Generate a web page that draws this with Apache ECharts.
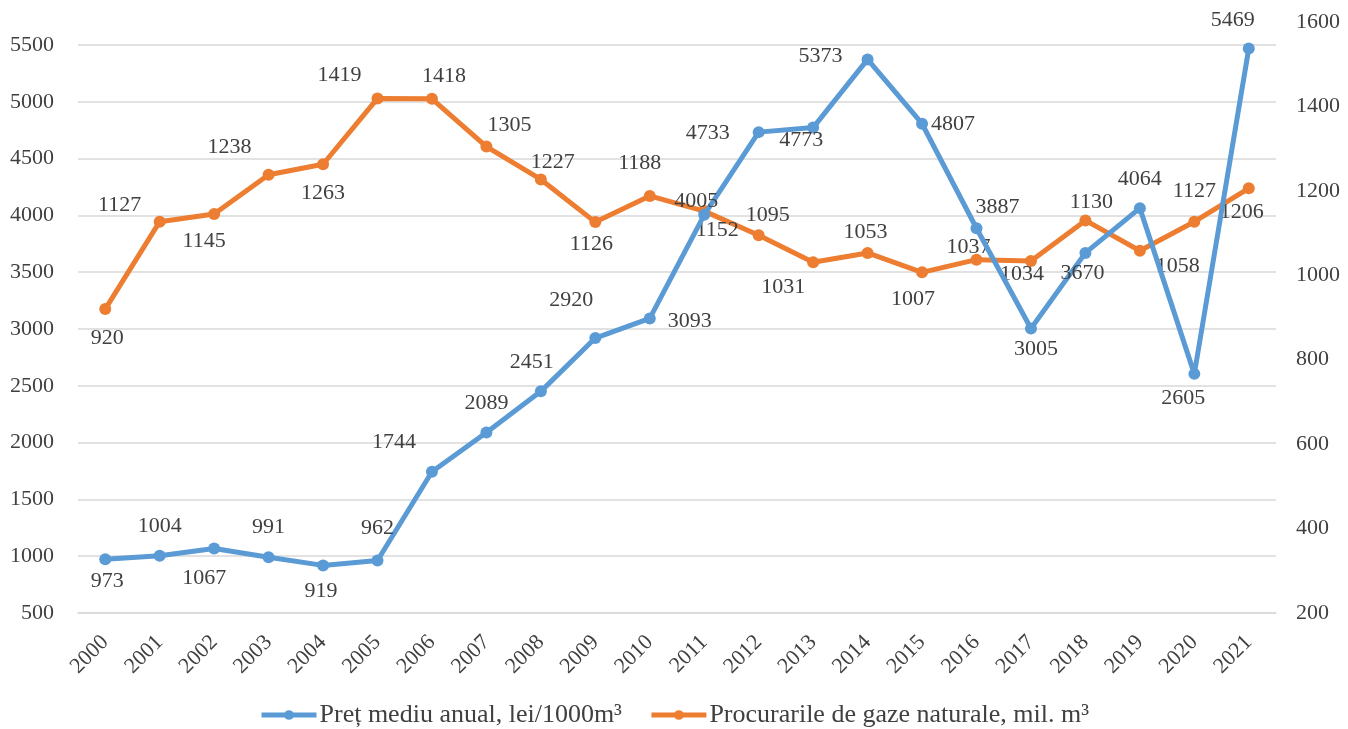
<!DOCTYPE html>
<html>
<head>
<meta charset="utf-8">
<script src="https://cdn.jsdelivr.net/npm/echarts@6/dist/echarts.min.js"></script>
<style>
  html, body { margin: 0; padding: 0; background: #fff; }
  #chart { width: 1348px; height: 729px; }
</style>
</head>
<body>
<div id="chart"></div>
<script>
// Chart data
const years = ["2000", "2001", "2002", "2003", "2004", "2005", "2006", "2007", "2008", "2009", "2010",
  "2011", "2012", "2013", "2014", "2015", "2016", "2017", "2018", "2019", "2020", "2021"];
const price = [973, 1004, 1067, 991, 919, 962, 1744, 2089, 2451, 2920, 3093,
  4005, 4733, 4773, 5373, 4807, 3887, 3005, 3670, 4064, 2605, 5469];
const procurement = [920, 1127, 1145, 1238, 1263, 1419, 1418, 1305, 1227, 1126, 1188,
  1152, 1095, 1031, 1053, 1007, 1037, 1034, 1130, 1058, 1127, 1206];
const priceName = "Preț mediu anual, lei/1000m³";
const procName = "Procurarile de gaze naturale, mil. m³";

// Label placement (offset from the point), set by hand like in the original
const priceLabelOffset = [[2, 22], [0, -30], [-10, 30], [0, -30], [-2, 26], [0, -32], [-38, -29], [0, -29],
  [-9, -29], [-24, -38], [40, 3], [-8, -14], [-51, 1], [-12, 13], [-47, -3], [31, 0], [21, -21], [5, 21],
  [-3, 20], [0, -29], [-11, 24], [-16, -28]];
const procLabelOffset = [[2, 29], [-40, -16], [-10, 27], [-39, -28], [0, 29], [-38, -23], [12, -23], [23, -21],
  [12, -17], [-4, 22], [-10, -33], [13, 19], [9, -20], [-30, 25], [-2, -21], [-9, 27], [-8, -12], [-9, 13],
  [6, -18], [38, 15], [0, -30], [-7, 24]];

const font = "'Liberation Serif', 'Times New Roman', serif";
const textColor = "#404040";
const blue = "#5B9BD5";
const orange = "#ED7D31";

function buildData(values, offsets) {
  return values.map((v, i) => ({
    value: v,
    label: { offset: offsets[i] }
  }));
}

const labelStyle = {
  show: true,
  position: "inside",
  fontFamily: font,
  fontSize: 22,
  color: textColor
};

let myChart = echarts.init(document.getElementById("chart"));

let option = {
  animation: false,
  backgroundColor: "#fff",
  grid: [
    { left: 78, right: 72, top: 45, bottom: 116 },
    { left: 78, right: 72, top: 22, bottom: 116 }
  ],
  legend: {
    top: 697,
    left: "center",
    itemWidth: 55,
    itemHeight: 12,
    itemGap: 27,
    lineStyle: { width: 5 },
    textStyle: { fontFamily: font, fontSize: 26, color: textColor, padding: [0, 0, 0, -2] },
    data: [priceName, procName]
  },
  xAxis: [
    {
      gridIndex: 0,
      type: "category",
      data: years,
      boundaryGap: true,
      axisLine: { lineStyle: { color: "#d9d9d9", width: 1.5 } },
      axisTick: { show: false },
      axisLabel: {
        rotate: 45,
        margin: 26,
        interval: 0,
        fontFamily: font,
        fontSize: 22,
        color: textColor
      }
    },
    {
      gridIndex: 1,
      type: "category",
      data: years,
      boundaryGap: true,
      show: false
    }
  ],
  yAxis: [
    {
      gridIndex: 0,
      type: "value",
      min: 500,
      max: 5500,
      interval: 500,
      axisLine: { show: false },
      axisTick: { show: false },
      splitLine: { lineStyle: { color: "#d9d9d9", width: 1.5 } },
      axisLabel: {
        margin: 24,
        fontFamily: font,
        fontSize: 22,
        color: textColor,
        formatter: (v) => String(v)
      }
    },
    {
      gridIndex: 1,
      type: "value",
      position: "right",
      min: 200,
      max: 1600,
      interval: 200,
      axisLine: { show: false },
      axisTick: { show: false },
      splitLine: { show: false },
      axisLabel: {
        margin: 20,
        fontFamily: font,
        fontSize: 22,
        color: textColor,
        formatter: (v) => String(v)
      }
    }
  ],
  series: [
    {
      name: priceName,
      type: "line",
      xAxisIndex: 0,
      yAxisIndex: 0,
      data: buildData(price, priceLabelOffset),
      symbol: "circle",
      symbolSize: 12,
      lineStyle: { color: blue, width: 5 },
      itemStyle: { color: blue },
      label: labelStyle,
      z: 3
    },
    {
      name: procName,
      type: "line",
      xAxisIndex: 1,
      yAxisIndex: 1,
      data: buildData(procurement, procLabelOffset),
      symbol: "circle",
      symbolSize: 12,
      lineStyle: { color: orange, width: 5 },
      itemStyle: { color: orange },
      label: labelStyle,
      z: 2
    }
  ]
};

myChart.setOption(option);
</script>
</body>
</html>
